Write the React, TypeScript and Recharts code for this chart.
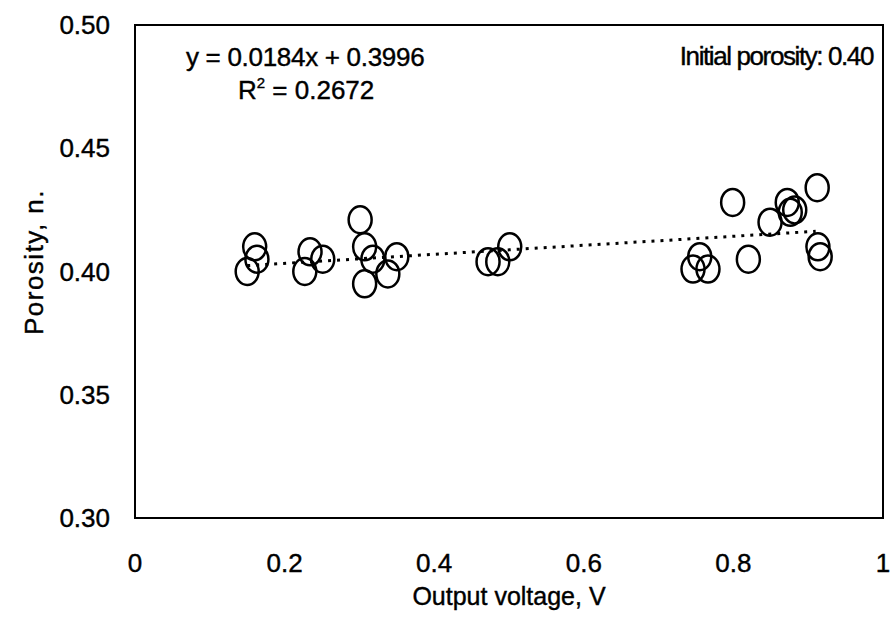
import React from "react";
import {
  ScatterChart,
  Scatter,
  XAxis,
  YAxis,
  ReferenceArea,
  ReferenceLine,
} from "recharts";

// Output voltage (V) and porosity
const voltage = [
  0.15, 0.16, 0.163, 0.234, 0.227, 0.251, 0.301, 0.307, 0.307, 0.318, 0.338,
  0.35, 0.472, 0.485, 0.501, 0.755, 0.746, 0.766, 0.82, 0.799, 0.849, 0.872,
  0.876, 0.882, 0.912, 0.913, 0.916,
];
const porosity = [
  0.4, 0.41, 0.405, 0.408, 0.4, 0.405, 0.421, 0.41, 0.395, 0.405, 0.399,
  0.406, 0.404, 0.404, 0.41, 0.406, 0.401, 0.401, 0.405, 0.428, 0.42, 0.428,
  0.424, 0.425, 0.434, 0.41, 0.406,
];

// dotted trend line ends
const trendX = [0.15, 0.91];
const trendY = [0.4024, 0.4163];

const xTicks = [0, 0.2, 0.4, 0.6, 0.8, 1];
const yTicks = [0.3, 0.35, 0.4, 0.45, 0.5];

const FONT = '"Liberation Sans", Arial, sans-serif';

const points = voltage.map((v, i) => ({ v, p: porosity[i] }));

const Ring = (props: any) => {
  const { cx, cy } = props;
  if (cx == null || cy == null) return null;
  return (
    <ellipse
      cx={cx}
      cy={cy}
      rx={11.5}
      ry={13.5}
      fill="none"
      stroke="#000"
      strokeWidth={2.5}
    />
  );
};

const tickStyle = {
  fill: "#000",
  fontSize: 26,
  fontFamily: FONT,
  stroke: "#000",
  strokeWidth: 0.4,
};

export default function App() {
  return (
    <div
      style={{
        position: "absolute",
        left: 0,
        top: 0,
        width: 896,
        height: 629,
        background: "#fff",
        fontFamily: FONT,
      }}
    >
      <ScatterChart
        width={896}
        height={629}
        margin={{ top: 25, right: 13, bottom: 0, left: 0 }}
      >
        <XAxis
          type="number"
          dataKey="v"
          domain={[0, 1]}
          ticks={xTicks}
          tickFormatter={(t: number) => String(t)}
          height={111}
          tickSize={0}
          tickMargin={36}
          axisLine={{ stroke: "#000", strokeWidth: 2 }}
          tick={tickStyle}
        />
        <YAxis
          type="number"
          dataKey="p"
          domain={[0.3, 0.5]}
          ticks={yTicks}
          tickFormatter={(t: number) => t.toFixed(2)}
          width={135}
          tickSize={0}
          tickMargin={25}
          axisLine={{ stroke: "#000", strokeWidth: 2 }}
          tick={tickStyle}
        />
        <ReferenceArea
          x1={0}
          x2={1}
          y1={0.3}
          y2={0.5}
          fill="none"
          stroke="#000"
          strokeWidth={2}
          ifOverflow="visible"
        />
        <ReferenceLine
          segment={[
            { x: trendX[0], y: trendY[0] },
            { x: trendX[1], y: trendY[1] },
          ]}
          stroke="#000"
          strokeWidth={3}
          strokeDasharray="3 6"
        />
        <Scatter data={points} shape={Ring} isAnimationActive={false} />
      </ScatterChart>
      <svg
        width={896}
        height={629}
        style={{ position: "absolute", left: 0, top: 0, pointerEvents: "none" }}
      >
        <g fill="#000" stroke="#000" strokeWidth={0.4} fontFamily={FONT}>
          <text x={186} y={66} fontSize={26} letterSpacing={-0.3}>
            y = 0.0184x + 0.3996
          </text>
          <text x={238} y={99} fontSize={26}>
            R<tspan fontSize={15} dy={-11}>2</tspan>
            <tspan dy={11}> = 0.2672</tspan>
          </text>
          <text
            x={873}
            y={65}
            textAnchor="end"
            fontSize={26}
            letterSpacing={-1.4}
          >
            Initial porosity: 0.40
          </text>
          <text x={509} y={605} textAnchor="middle" fontSize={25}>
            Output voltage, V
          </text>
          <text
            x={43}
            y={262}
            textAnchor="middle"
            transform="rotate(-90 43 262)"
            fontSize={26}
            letterSpacing={1.5}
          >
            Porosity, n.
          </text>
        </g>
      </svg>
    </div>
  );
}
